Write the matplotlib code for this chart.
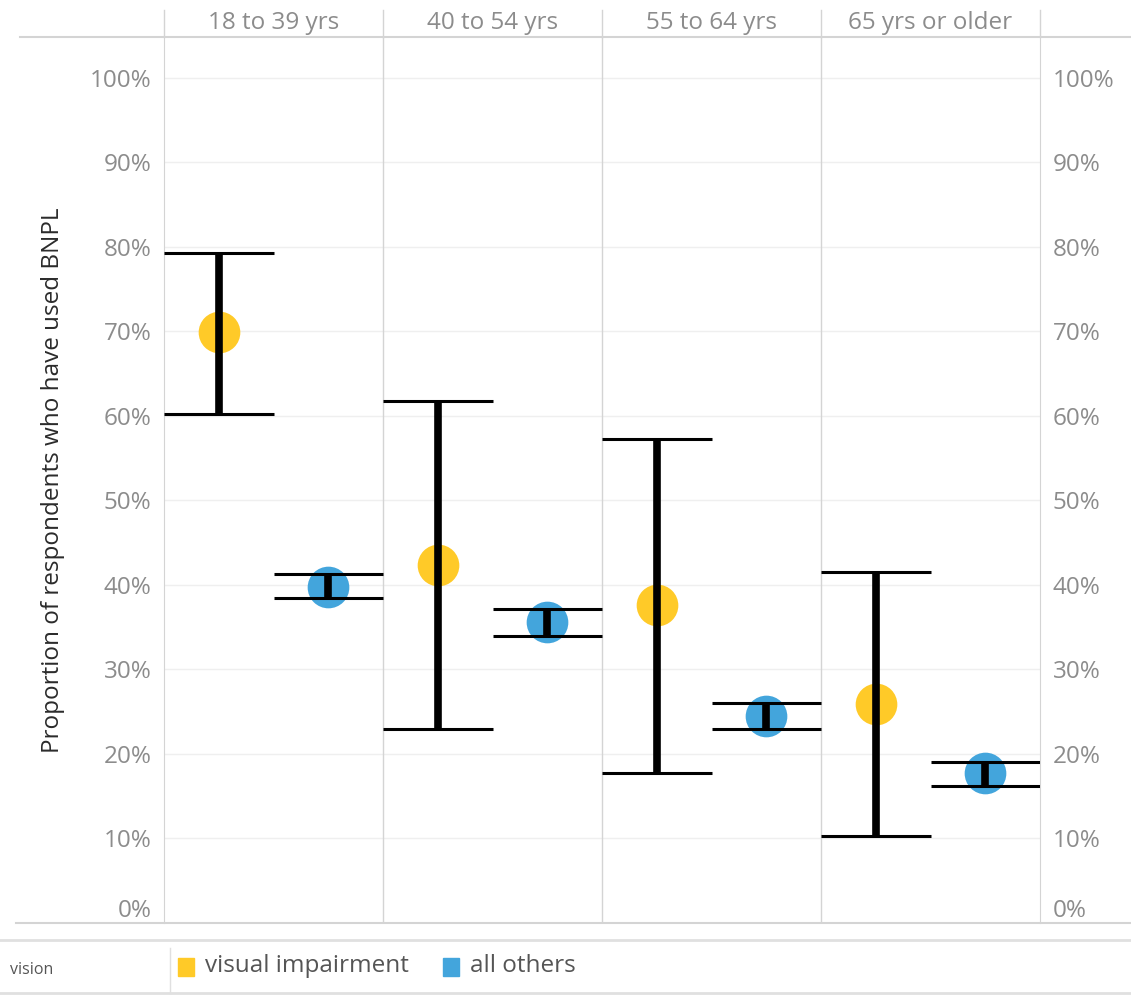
import matplotlib.pyplot as plt
from matplotlib.lines import Line2D
from matplotlib.patches import Rectangle

# age groups (panels)
ages = ["18 to 39 yrs", "40 to 54 yrs", "55 to 64 yrs", "65 yrs or older"]
groups = ["visual impairment", "all others"]
colors = ["#FFCA28", "#43A5DC"]

# proportion who have used BNPL (%) with lower / upper bounds
vi_mid = [69.9, 42.4, 37.6, 25.9]
vi_low = [60.2, 23.0, 17.8, 10.3]
vi_high = [79.2, 61.7, 57.3, 41.5]
ao_mid = [39.8, 35.6, 24.5, 17.7]
ao_low = [38.5, 33.9, 23.0, 16.2]
ao_high = [41.3, 37.2, 26.0, 19.0]

yticks = [0, 10, 20, 30, 40, 50, 60, 70, 80, 90, 100]
ylabels = [str(t) + "%" for t in yticks]

W, H = 1131, 998
fig = plt.figure(figsize=(W / 100, H / 100), dpi=100)
plt.rcParams['font.family'] = ['Open Sans', 'DejaVu Sans']

def fx(px):
    return px / W

def fy(py):
    return 1 - py / H

left, right, top, bottom = 164, 1040, 37, 923
ax = fig.add_axes([fx(left), fy(bottom), fx(right) - fx(left), fy(top) - fy(bottom)])
ax.set_xlim(0, 8)
ax.set_ylim(0, 104.8)

grid_c = "#d4d4d4"
tick_c = "#8c8c8c"

for t in yticks[1:]:
    ax.axhline(t, color="#efefef", lw=1, zorder=0)
for x in [2, 4, 6]:
    ax.axvline(x, color=grid_c, lw=1, zorder=1)

mids = [vi_mid, ao_mid]
lows = [vi_low, ao_low]
highs = [vi_high, ao_high]
for g in range(2):
    xs = [2 * i + g + 0.5 for i in range(4)]
    ax.scatter(xs, mids[g], s=900, color=colors[g], zorder=3, linewidths=0)
    for i in range(4):
        x = xs[i]
        ax.vlines(x, lows[g][i], highs[g][i], color="black", lw=5.5, zorder=4)
        ax.hlines([lows[g][i], highs[g][i]], x - 0.5, x + 0.5, color="black", lw=2.2, zorder=4)

ax.set_xticks([])
ax.set_yticks(yticks)
ax.set_yticklabels(ylabels)
ax.tick_params(axis="y", length=0, labelsize=17.5, labelcolor=tick_c, pad=9,
               labelleft=True, labelright=True)
for spine in ["top", "bottom"]:
    ax.spines[spine].set_visible(False)
for spine in ["left", "right"]:
    ax.spines[spine].set_color(grid_c)
# 0% label sits above the bottom edge
for t in ax.yaxis.get_major_ticks()[:1]:
    t.label1.set_verticalalignment("bottom")
    t.label2.set_verticalalignment("bottom")

ax.set_ylabel("Proportion of respondents who have used BNPL", fontsize=17.5,
              color="#2b2b2b", labelpad=18)

# header row
for px in [164, 383, 602, 821, 1040]:
    fig.add_artist(Line2D([fx(px), fx(px)], [fy(10), fy(top)], color=grid_c, lw=1))
fig.add_artist(Line2D([fx(20), 1], [fy(top), fy(top)], color=grid_c, lw=1.5))
fig.add_artist(Line2D([fx(16), 1], [fy(bottom), fy(bottom)], color=grid_c, lw=1.5))
for i, a in enumerate(ages):
    cx = 164 + 219 * (i + 0.5)
    fig.text(fx(cx), fy(23), a, ha="center", va="center", fontsize=17.5, color=tick_c)

# legend band
fig.add_artist(Line2D([0, 1], [fy(940), fy(940)], color="#e0e0e0", lw=2))
fig.add_artist(Line2D([0, 1], [fy(993), fy(993)], color="#e0e0e0", lw=2))
fig.add_artist(Line2D([fx(170), fx(170)], [fy(948), fy(993)], color="#e0e0e0", lw=1))
fig.text(fx(10), fy(970), "vision", ha="left", va="center", fontsize=11.5, color="#555555")
leg_x = [178, 443]
for g in range(2):
    fig.add_artist(Rectangle((fx(leg_x[g]), fy(976)), 16 / W, 18 / H,
                             color=colors[g], transform=fig.transFigure))
    fig.text(fx(leg_x[g] + 27), fy(966), groups[g], ha="left", va="center",
             fontsize=17.5, color="#555555")

plt.savefig("out.png", dpi=100)
